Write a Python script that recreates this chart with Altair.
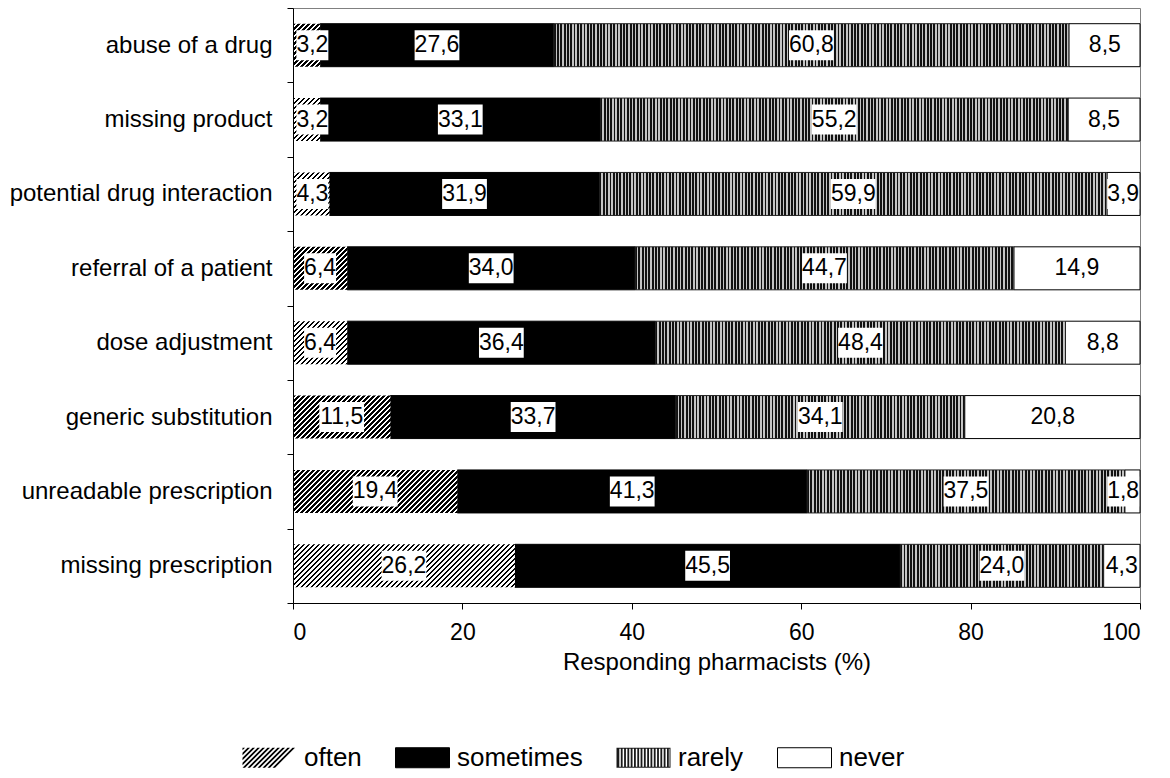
import math
import altair as alt
import pandas as pd

# ---------------- data ----------------
categories = [
    "abuse of a drug",
    "missing product",
    "potential drug interaction",
    "referral of a patient",
    "dose adjustment",
    "generic substitution",
    "unreadable prescription",
    "missing prescription",
]
statuses = ["often", "sometimes", "rarely", "never"]
often = [3.2, 3.2, 4.3, 6.4, 6.4, 11.5, 19.4, 26.2]
sometimes = [27.6, 33.1, 31.9, 34.0, 36.4, 33.7, 41.3, 45.5]
rarely = [60.8, 55.2, 59.9, 44.7, 48.4, 34.1, 37.5, 24.0]
never = [8.5, 8.5, 3.9, 14.9, 8.8, 20.8, 1.8, 4.3]
x_ticks = [0, 20, 40, 60, 80, 100]
x_title = "Responding pharmacists (%)"

# ---------------- styling ----------------
FONT = "Liberation Sans"
PLOT_W = 847
PLOT_H = 595
BAR_H = 43
BOX_H = 30
LABEL_SIZE = 23
PX = PLOT_W / 100.0
SW_W, SW_H = 54, 20


def stripe_stops(n_units, period, duty, dark, light):
    stops = []
    n = math.ceil(n_units / period)
    for i in range(n):
        a = min(i * period / n_units, 1)
        b = min((i + duty) * period / n_units, 1)
        c = min((i + 1) * period / n_units, 1)
        stops += [
            {"offset": round(a, 5), "color": dark},
            {"offset": round(b, 5), "color": dark},
            {"offset": round(b, 5), "color": light},
            {"offset": round(c, 5), "color": light},
        ]
    return stops


def diag_hatch(W, H, period=5.0, duty=0.5, dark="#000000", light="#ffffff"):
    W = max(W, 1.0)
    r = W / H
    s = (r + 1) / (r * r + 1)
    return {"gradient": "linear", "x1": 0, "y1": 0, "x2": round(s * r, 5),
            "y2": round(s, 5), "stops": stripe_stops(W + H, period, duty, dark, light)}


def v_stripes(W, period=3.3, duty=0.55, dark="#111111", light="#c4c4c4"):
    W = max(W, 1.0)
    return {"gradient": "linear", "x1": 0, "y1": 0, "x2": 1, "y2": 0,
            "stops": stripe_stops(W, period, duty, dark, light)}


# ---- legend swatch shapes (SVG paths in symbol units) ----
def _clip(poly, f):
    out = []
    n = len(poly)
    for i in range(n):
        P, Q = poly[i], poly[(i + 1) % n]
        fp, fq = f(P), f(Q)
        if fp >= 0:
            out.append(P)
        if (fp >= 0) != (fq >= 0):
            t = fp / (fp - fq)
            out.append((P[0] + t * (Q[0] - P[0]), P[1] + t * (Q[1] - P[1])))
    return out


def _path(polys, W):
    k = 2.0 / W
    parts = []
    for poly in polys:
        pts = [f"{(x - W / 2) * k:.4f},{(y - SW_H / 2) * k:.4f}" for x, y in poly]
        parts.append("M" + "L".join(pts) + "Z")
    return "".join(parts)


def rect_poly(x0, y0, x1, y1, ccw=False):
    p = [(x0, y0), (x1, y0), (x1, y1), (x0, y1)]
    return p[::-1] if ccw else p


def hatch_path(W=SW_W, H=SW_H, period=5.0, duty=0.5):
    polys = []
    c = -H
    while c < W:
        poly = rect_poly(0, 0, W, H)
        poly = _clip(poly, lambda p, c=c: p[0] + p[1] - c)
        poly = _clip(poly, lambda p, c=c: c + period * duty - (p[0] + p[1]))
        if len(poly) >= 3:
            polys.append(poly)
        c += period
    return _path(polys, W)


def vstripe_path(W=SW_W, H=SW_H, period=3.3, duty=0.55):
    polys = [rect_poly(0, 0, W, H), rect_poly(1, 1, W - 1, H - 1, ccw=True)]
    x = 1.0
    while x < W - 1:
        polys.append(rect_poly(x, 1, min(x + period * duty, W - 1), H - 1))
        x += period
    return _path(polys, W)


rect_path = _path([rect_poly(0, 0, SW_W, SW_H)], SW_W)

rows = []
series = [often, sometimes, rarely, never]
for i, cat in enumerate(categories):
    start = 0.0
    for st, vals in zip(statuses, series):
        v = vals[i]
        end = start + v
        label = f"{v:.1f}".replace(".", ",")
        text_w = sum(0.278 if ch == "," else 0.556 for ch in label) * LABEL_SIZE
        half = text_w / 2 / PX
        mid = (start + end) / 2
        lx = max(mid, half + 0.4)
        lx = min(lx, 100 - half - 0.1)
        rows.append(dict(category=cat, status=st, value=v, start=start,
                         end=min(end, 100.0), lx=lx, box0=lx - half,
                         box1=lx + half, label=label))
        start = end
df = pd.DataFrame(rows)

x_axis = alt.Axis(values=x_ticks, title=x_title, grid=False, labelFontSize=23,
                  titleFontSize=24, titleFontWeight="normal", titleColor="black",
                  labelColor="black", domainColor="black", tickColor="black",
                  tickSize=6, labelPadding=12, titlePadding=6, zindex=1)
x_scale = alt.Scale(domain=[0, 100], nice=False, clamp=True)
y_axis = alt.Axis(title=None, labelFontSize=24, labelColor="black",
                  domainColor="black", tickColor="black", tickSize=6,
                  labelPadding=15, labelLimit=500, tickBand="extent", zindex=1)
y_scale = alt.Scale(domain=categories, paddingInner=0, paddingOuter=0)


def X(field):
    return alt.X(f"{field}:Q", scale=x_scale, axis=x_axis)


def Y():
    return alt.Y("category:N", scale=y_scale, axis=y_axis, sort=categories)


base = alt.Chart(df)

layers = []
# solid segments
layers.append(
    base.transform_filter("datum.status === 'sometimes' || datum.status === 'never'")
    .mark_bar(height=BAR_H, stroke="black", strokeWidth=1)
    .encode(
        x=X("start"), x2="end", y=Y(),
        fill=alt.condition("datum.status === 'sometimes'", alt.value("#000000"),
                           alt.value("#ffffff")),
    )
)
# patterned segments, one layer each (pattern sized to the segment)
for i, cat in enumerate(categories):
    layers.append(
        base.transform_filter(f"datum.category === '{cat}' && datum.status === 'often'")
        .mark_bar(height=BAR_H, fill=diag_hatch(often[i] * PX, BAR_H), strokeWidth=0)
        .encode(x=X("start"), x2="end", y=Y())
    )
    layers.append(
        base.transform_filter(f"datum.category === '{cat}' && datum.status === 'rarely'")
        .mark_bar(height=BAR_H, fill=v_stripes(rarely[i] * PX), stroke="#222222",
                  strokeWidth=1)
        .encode(x=X("start"), x2="end", y=Y())
    )
# white label boxes
layers.append(
    base.mark_bar(height=BOX_H, color="white", strokeWidth=0)
    .encode(x=X("box0"), x2="box1", y=Y())
)
# labels
layers.append(
    base.mark_text(fontSize=LABEL_SIZE, color="black", baseline="middle", align="center")
    .encode(x=X("lx"), y=Y(), text="label:N")
)

# legend carrier (no visible marks; only feeds the legend)
legend = alt.Legend(
    title=None, orient="none", legendX=-51, legendY=722, direction="horizontal",
    symbolSize=SW_W * SW_W, symbolStrokeWidth=1, symbolOpacity=1,
    labelFontSize=26, labelColor="black", labelOffset=7, columnPadding=31,
    padding=0, labelLimit=400, labelBaseline="middle",
)
layers.append(
    base.transform_filter("datum.value < 0")
    .mark_point(filled=True, opacity=1)
    .encode(
        x=X("start"), y=Y(),
        fill=alt.Fill("status:N", legend=legend,
                      scale=alt.Scale(domain=statuses,
                                      range=["#000000", "#000000", "#1a1a1a", "#ffffff"])),
        shape=alt.Shape("status:N", legend=legend,
                        scale=alt.Scale(domain=statuses,
                                        range=[hatch_path(), rect_path, vstripe_path(), rect_path])),
        stroke=alt.Stroke("status:N", legend=legend,
                          scale=alt.Scale(domain=statuses,
                                          range=["transparent", "#000000", "transparent", "#000000"])),
    )
)

chart = (
    alt.layer(*layers)
    .properties(width=PLOT_W, height=PLOT_H,
                autosize=alt.AutoSizeParams(type="none"),
                padding={"left": 285, "top": 0, "right": 20, "bottom": 170})
    .configure(font=FONT)
    .configure_view(stroke="#808080", strokeWidth=1)
)

chart.save("out.html", embed_options={"renderer": "svg", "actions": False})
